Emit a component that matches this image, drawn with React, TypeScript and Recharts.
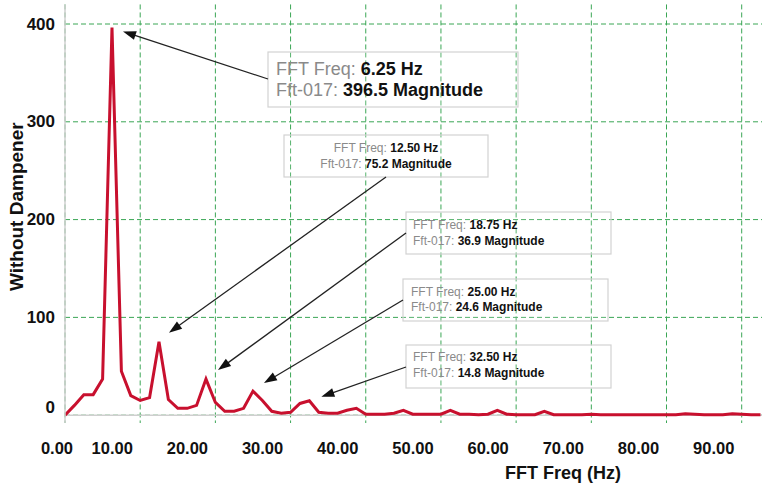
import React from "react";
import {
  LineChart,
  Line,
  XAxis,
  YAxis,
  CartesianGrid,
  ReferenceLine,
  ReferenceDot,
  Label,
} from "recharts";

// FFT bins (Hz)
const FREQ_HZ = [
  0, 1.25, 2.5, 3.75, 5, 6.25, 7.5, 8.75, 10, 11.25, 12.5, 13.75, 15, 16.25, 17.5, 18.75,
  20, 21.25, 22.5, 23.75, 25, 26.25, 27.5, 28.75, 30, 31.25, 32.5, 33.75, 35, 36.25, 37.5,
  38.75, 40, 41.25, 42.5, 43.75, 45, 46.25, 47.5, 48.75, 50, 51.25, 52.5, 53.75, 55, 56.25,
  57.5, 58.75, 60, 61.25, 62.5, 63.75, 65, 66.25, 67.5, 68.75, 70, 71.25, 72.5, 73.75, 75,
  76.25, 77.5, 78.75, 80, 81.25, 82.5, 83.75, 85, 86.25, 87.5, 88.75, 90, 91.25, 92.5,
];

// Fft-017 magnitude, without dampener
const MAGNITUDE = [
  0, 10, 21, 21, 37, 396.5, 45, 20, 15, 18, 75.2, 16, 7, 7, 10, 36.9,
  13, 4, 4, 7, 24.6, 15, 4, 2, 3, 12, 14.8, 3, 2, 2, 5,
  7, 1, 1, 1, 2, 5, 1, 1, 1, 1, 5, 1, 1, 0.5, 1,
  5, 1, 0.5, 0.5, 0.5, 4, 0.5, 0.5, 0.5, 0.5, 1, 0.5, 0.5, 0.5, 0.5,
  0.5, 0.5, 0.5, 0.5, 0.5, 1.5, 1, 0.5, 0.5, 0.5, 1.5, 1, 0.5, 0.5,
];

const X_TICKS = [0, 10, 20, 30, 40, 50, 60, 70, 80, 90];
const Y_TICKS = [0, 100, 200, 300, 400];

// annotated peaks
const PEAK_FREQ = [6.25, 12.5, 18.75, 25, 32.5];
const PEAK_MAG = [396.5, 75.2, 36.9, 24.6, 14.8];
const PEAK_FREQ_TEXT = ["6.25 Hz", "12.50 Hz", "18.75 Hz", "25.00 Hz", "32.50 Hz"];
const PEAK_MAG_TEXT = ["396.5 Magnitude", "75.2 Magnitude", "36.9 Magnitude", "24.6 Magnitude", "14.8 Magnitude"];

// callout layout (chart pixels)
const CALLOUTS = [
  { box: [268, 52, 250, 55], textX: 276, anchor: "start", lines: [75, 96], font: 18, from: [268, 79], tip: [11, 4] },
  { box: [284, 135, 204, 42], textX: 386, anchor: "middle", lines: [152, 168], font: 12, from: [386, 177], tip: [10, -9] },
  { box: [406, 212, 205, 42], textX: 413, anchor: "start", lines: [229, 245], font: 12, from: [406, 233], tip: [12, -9] },
  { box: [403, 279, 205, 42], textX: 411, anchor: "start", lines: [296, 311], font: 12, from: [403, 300], tip: [11, -8] },
  { box: [406, 345, 205, 43], textX: 413, anchor: "start", lines: [361, 377], font: 12, from: [406, 367], tip: [12, -4] },
];

const FONT = "'Liberation Sans', Arial, Helvetica, sans-serif";
const GRID = "#3aa655";
const AXIS_GRAY = "#cfcfcf";
const LINE_RED = "#c8102e";

const data = FREQ_HZ.map((freq, i) => ({ freq, magnitude: MAGNITUDE[i] }));

const XTick = (props: any) => {
  const { x, y, payload } = props;
  const shift = payload.value === 0 ? -8 : -28;
  return (
    <text
      x={x + shift}
      y={y + 25}
      textAnchor="middle"
      dominantBaseline="central"
      fontFamily={FONT}
      fontWeight="bold"
      fontSize={16.5}
      fill="#111"
    >
      {payload.value.toFixed(2)}
    </text>
  );
};

const YTick = (props: any) => {
  const { x, y, payload } = props;
  return (
    <text
      x={x - 10}
      y={payload.value === 0 ? y - 8 : y}
      textAnchor="end"
      dominantBaseline="central"
      fontFamily={FONT}
      fontWeight="bold"
      fontSize={17}
      fill="#111"
    >
      {payload.value}
    </text>
  );
};

const renderYTitle = (props: any) => {
  const vb = props.viewBox || { x: 0, y: 4, width: 65, height: 418 };
  const cx = vb.x + 17;
  const cy = vb.y + vb.height / 2 - 7;
  return (
    <text
      x={cx}
      y={cy}
      transform={`rotate(-90, ${cx}, ${cy})`}
      textAnchor="middle"
      dominantBaseline="central"
      fontFamily={FONT}
      fontWeight="bold"
      fontSize={19}
      fill="#111"
    >
      Without Dampener
    </text>
  );
};

const renderXTitle = (props: any) => {
  const vb = props.viewBox || { x: 65, y: 423, width: 697, height: 62 };
  return (
    <text
      x={vb.x + 498}
      y={vb.y + 50}
      textAnchor="middle"
      dominantBaseline="central"
      fontFamily={FONT}
      fontWeight="bold"
      fontSize={18}
      fill="#111"
    >
      FFT Freq (Hz)
    </text>
  );
};

const makeCallout = (i: number) => (props: any) => {
  const { cx, cy } = props;
  const c = CALLOUTS[i];
  const [bx, by, bw, bh] = c.box;
  const tipX = cx + c.tip[0];
  const tipY = cy + c.tip[1];
  const dx = tipX - c.from[0];
  const dy = tipY - c.from[1];
  const len = Math.sqrt(dx * dx + dy * dy);
  const ux = dx / len;
  const uy = dy / len;
  const headLen = 13;
  const headW = 4.5;
  const baseX = tipX - ux * headLen;
  const baseY = tipY - uy * headLen;
  const head = [
    `${tipX},${tipY}`,
    `${baseX - uy * headW},${baseY + ux * headW}`,
    `${baseX + uy * headW},${baseY - ux * headW}`,
  ].join(" ");
  return (
    <g>
      <rect x={bx} y={by} width={bw} height={bh} fill="rgba(255,255,255,0.15)" stroke="#d2d2d2" strokeWidth={1.2} />
      <line x1={c.from[0]} y1={c.from[1]} x2={baseX + ux * 2} y2={baseY + uy * 2} stroke="#222" strokeWidth={1.3} />
      <polygon points={head} fill="#111" />
      <text x={c.textX} y={c.lines[0]} textAnchor={c.anchor} fontFamily={FONT} fontSize={c.font}>
        <tspan fill="#8a8a8a">FFT Freq: </tspan>
        <tspan fill="#111" fontWeight="bold">{PEAK_FREQ_TEXT[i]}</tspan>
      </text>
      <text x={c.textX} y={c.lines[1]} textAnchor={c.anchor} fontFamily={FONT} fontSize={c.font}>
        <tspan fill="#8a8a8a">Fft-017: </tspan>
        <tspan fill="#111" fontWeight="bold">{PEAK_MAG_TEXT[i]}</tspan>
      </text>
    </g>
  );
};

export default function App() {
  return (
    <div style={{ position: "absolute", left: 0, top: 0, width: 762, height: 485, background: "#fff" }}>
      <LineChart
        width={762}
        height={485}
        data={data}
        margin={{ top: 4.45, right: 0, bottom: 0, left: 0 }}
      >
        <CartesianGrid
          stroke={GRID}
          strokeDasharray="5 3"
          strokeWidth={1}
          horizontalValues={Y_TICKS}
          verticalValues={X_TICKS}
        />
        <XAxis
          dataKey="freq"
          type="number"
          domain={[0, 92.7]}
          ticks={X_TICKS}
          allowDataOverflow
          height={62}
          axisLine={false}
          tickLine={false}
          tickSize={0}
          tickMargin={0}
          tick={<XTick />}
          interval={0}
        >
          <Label content={renderXTitle} />
        </XAxis>
        <YAxis
          type="number"
          domain={[-8, 420]}
          ticks={Y_TICKS}
          allowDataOverflow
          width={65}
          axisLine={{ stroke: AXIS_GRAY, strokeWidth: 1.5 }}
          tickLine={false}
          tickSize={0}
          tickMargin={0}
          tick={<YTick />}
          interval={0}
        >
          <Label content={renderYTitle} />
        </YAxis>
        <ReferenceLine y={0} stroke={AXIS_GRAY} strokeWidth={1.5} />
        <Line
          type="linear"
          dataKey="magnitude"
          stroke={LINE_RED}
          strokeWidth={3}
          dot={false}
          isAnimationActive={false}
        />
        {PEAK_FREQ.map((f, i) => (
          <ReferenceDot
            key={f}
            x={f}
            y={PEAK_MAG[i]}
            r={0}
            ifOverflow="visible"
            shape={makeCallout(i)}
          />
        ))}
      </LineChart>
    </div>
  );
}
